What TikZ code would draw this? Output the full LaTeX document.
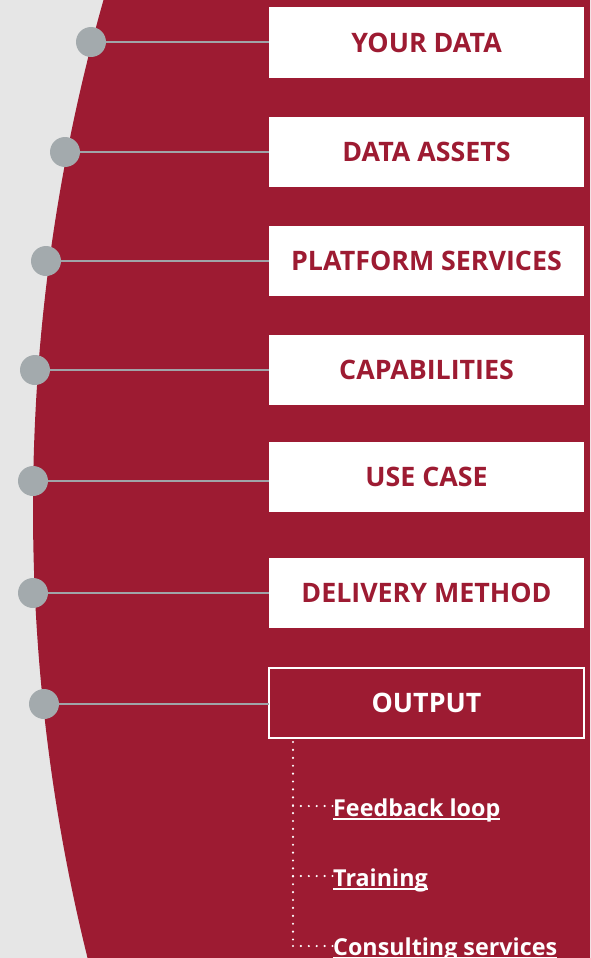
\documentclass[tikz,border=0pt]{standalone}
\usepackage{fontspec}
\setmainfont{Open Sans}
\definecolor{wine}{RGB}{157,27,50}
\definecolor{bggray}{RGB}{230,230,230}
\definecolor{dotgray}{RGB}{163,170,173}
\definecolor{linegray}{RGB}{160,164,168}
\newcommand{\myul}[1]{\setbox0\hbox{#1}\rlap{\rule[-3.6pt]{\wd0}{1.8pt}}\box0}
\begin{document}
\begin{tikzpicture}[x=1pt,y=-1pt,
  whitebox/.style={rectangle, minimum width=315pt, minimum height=70pt, inner sep=0pt,
    fill=white, text=wine, font=\bfseries\fontsize{26.8}{30}\selectfont},
  outbox/.style={whitebox, fill=wine, draw=white, line width=2pt, text=white},
  dotc/.style={circle, minimum size=30pt, inner sep=0pt, fill=dotgray},
  conn/.style={draw=linegray, line width=2.7pt},
  dots/.style={draw=white, line width=2.4pt, line cap=round, dash pattern=on 0pt off 7.9pt},
  linktext/.style={anchor=base west, inner sep=0pt, text=white, font=\bfseries\fontsize{23.3}{27}\selectfont}]
\useasboundingbox (0,0) rectangle (590,958);
\clip (0,0) rectangle (590,958);
\fill[bggray] (0,0) rectangle (590,958);
\fill[wine] (1893,509) circle (1860pt);
% boxes
\node[whitebox] (b1) at (426.5,42.5) {YOUR DATA};
\node[whitebox] (b2) at (426.5,152) {DATA ASSETS};
\node[whitebox] (b3) at (426.5,261) {PLATFORM SERVICES};
\node[whitebox] (b4) at (426.5,370) {CAPABILITIES};
\node[whitebox] (b5) at (426.5,477) {USE CASE};
\node[whitebox] (b6) at (426.5,593) {DELIVERY METHOD};
\node[outbox] (b7) at (426.5,703) {OUTPUT};
% circles
\node[dotc] (c1) at (91,42) {};
\node[dotc] (c2) at (65,152) {};
\node[dotc] (c3) at (46,261) {};
\node[dotc] (c4) at (35,370) {};
\node[dotc] (c5) at (33,481) {};
\node[dotc] (c6) at (33,593) {};
\node[dotc] (c7) at (44,704) {};
\foreach \i/\y in {1/42,2/152,3/261,4/370,5/481,6/593,7/704}{
  \draw[conn] (c\i.east) -- (269,\y);
}
% links
\node[linktext] (l1) at (333,816) {\myul{Feedback loop}};
\node[linktext] (l2) at (333,886) {\myul{Training}};
\node[linktext] (l3) at (333,955) {\myul{Consulting services}};
\coordinate (v0) at (293,742);
\coordinate (j1) at (293,806);
\coordinate (j2) at (293,876);
\coordinate (j3) at (293,946);
\draw[dots] (v0) -- (j3);
\draw[dots] (j1) -- (j1 -| l1.west);
\draw[dots] (j2) -- (j2 -| l2.west);
\draw[dots] (j3) -- (j3 -| l3.west);
\end{tikzpicture}
\end{document}
